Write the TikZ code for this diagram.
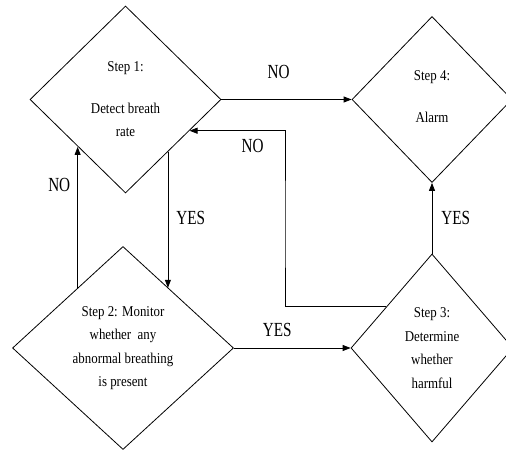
\documentclass[tikz,border=0pt]{standalone}
\usepackage{fontspec}
\setmainfont[FakeStretch=0.86]{Liberation Serif}
\newfontfamily\answerfont[FakeStretch=0.76]{Liberation Serif}
\usetikzlibrary{shapes.geometric,arrows.meta}

\begin{document}
\begin{tikzpicture}[x=1pt, y=1pt, line width=0.8pt,
	>={Triangle[length=8pt,width=6pt]},
	stepnode/.style={diamond, draw, inner sep=0pt, align=center,
		font=\fontsize{15}{23.5}\selectfont},
	answer/.style={font=\answerfont\fontsize{20}{22}\selectfont, inner sep=2pt}]

	\useasboundingbox (0,0) rectangle (506,450);
	\clip (0,0) rectangle (506,450);

	% Make nodes
	\node[stepnode, minimum width=191pt, minimum height=187pt] (d1) at (125.5, 350.5)
		{Step 1:\\[18pt]Detect breath\\rate};
	\node[stepnode, minimum width=160pt, minimum height=166pt] (d4) at (432, 350.5)
		{Step 4:\\[18pt]Alarm\\[-18pt]};
	\node[stepnode, minimum width=221pt, minimum height=203pt] (d2) at (123, 102)
		{Step 2: Monitor\\whether~ any\\abnormal breathing\\is present};
	\node[stepnode, minimum width=162pt, minimum height=188pt] (d3) at (432, 102)
		{\mbox{}\\[-13.5pt]Step 3:\\Determine\\whether\\harmful};
	\coordinate (back) at (285, 220);

	% Make arrows
	\draw [->] (d1.east) -- (d4.west) node[answer, midway, above=18pt, xshift=-8pt] {NO};
	\draw [->] (d2.east) -- (d3.west) node[answer, midway, above=9pt, xshift=-15pt] {YES};
	\draw [->] (d3.north) -- (d4.south) node[answer, midway, right=7pt] {YES};
	\draw [->] (d1.-51) -- (d1.-51 |- d2.53) node[answer, pos=0.49, right=6pt] {YES};
	\draw [->] (d2.127) -- (d2.127 |- d1.-135) node[answer, pos=0.73, left=5pt] {NO};
	\draw [->] (d3.138) -| (back) |- (d1.-26) node[answer, pos=0.67, below=6pt] {NO};
\end{tikzpicture}
\end{document}
